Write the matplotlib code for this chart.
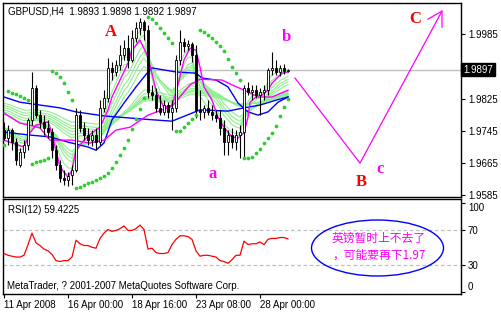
import numpy as np
import pandas as pd
import matplotlib
matplotlib.use('Agg')
import matplotlib.pyplot as plt
from matplotlib.patches import Ellipse

plt.rcParams['font.family'] = ['Liberation Sans', 'DejaVu Sans']

# ─── Datos (GBPUSD, H4) ───────────────────────────────────────────────────────
opens = [1.9747, 1.9727, 1.9747, 1.9717, 1.9660, 1.9692, 1.9710, 1.9772, 1.9851, 1.9784,
         1.9767, 1.9752, 1.9742, 1.9697, 1.9660, 1.9628, 1.9623, 1.9635, 1.9648, 1.9784,
         1.9752, 1.9735, 1.9722, 1.9735, 1.9717, 1.9802, 1.9826, 1.9901, 1.9891, 1.9908,
         1.9933, 1.9950, 1.9921, 1.9975, 2.0000, 2.0015, 1.9995, 1.9841, 1.9834, 1.9802,
         1.9792, 1.9809, 1.9792, 1.9802, 1.9921, 1.9965, 1.9955, 1.9960, 1.9933, 1.9797,
         1.9792, 1.9802, 1.9792, 1.9784, 1.9777, 1.9752, 1.9717, 1.9735, 1.9717, 1.9735,
         1.9742, 1.9851, 1.9841, 1.9846, 1.9834, 1.9841, 1.9846, 1.9896, 1.9901, 1.9891,
         1.9901, 1.9893]
highs = [1.9767, 1.9759, 1.9752, 1.9727, 1.9702, 1.9722, 1.9777, 1.9891, 1.9859, 1.9797,
         1.9784, 1.9772, 1.9752, 1.9710, 1.9673, 1.9648, 1.9643, 1.9660, 1.9802, 1.9797,
         1.9767, 1.9752, 1.9747, 1.9752, 1.9821, 1.9846, 1.9925, 1.9916, 1.9921, 1.9958,
         1.9970, 1.9983, 1.9995, 2.0015, 2.0025, 2.0020, 2.0007, 1.9859, 1.9851, 1.9834,
         1.9821, 1.9816, 1.9821, 1.9933, 1.9995, 1.9975, 1.9970, 1.9965, 1.9958, 1.9846,
         1.9809, 1.9821, 1.9809, 1.9797, 1.9797, 1.9772, 1.9747, 1.9752, 1.9747, 1.9759,
         1.9859, 1.9866, 1.9859, 1.9859, 1.9851, 1.9859, 1.9901, 1.9940, 1.9921, 1.9908,
         1.9911, 1.9898]
lows = [1.9722, 1.9710, 1.9697, 1.9660, 1.9655, 1.9677, 1.9697, 1.9759, 1.9777, 1.9752,
        1.9735, 1.9727, 1.9677, 1.9648, 1.9618, 1.9611, 1.9608, 1.9611, 1.9643, 1.9742,
        1.9722, 1.9710, 1.9707, 1.9697, 1.9710, 1.9792, 1.9816, 1.9871, 1.9881, 1.9896,
        1.9921, 1.9901, 1.9916, 1.9965, 1.9983, 1.9970, 1.9826, 1.9821, 1.9792, 1.9784,
        1.9784, 1.9777, 1.9747, 1.9792, 1.9908, 1.9940, 1.9945, 1.9916, 1.9777, 1.9772,
        1.9777, 1.9784, 1.9772, 1.9767, 1.9735, 1.9685, 1.9685, 1.9702, 1.9697, 1.9677,
        1.9677, 1.9834, 1.9821, 1.9826, 1.9784, 1.9821, 1.9834, 1.9883, 1.9883, 1.9881,
        1.9886, 1.9892]
closes = [1.9727, 1.9747, 1.9717, 1.9673, 1.9692, 1.9710, 1.9772, 1.9851, 1.9784, 1.9767,
          1.9752, 1.9742, 1.9697, 1.9660, 1.9628, 1.9623, 1.9633, 1.9648, 1.9784, 1.9752,
          1.9735, 1.9722, 1.9735, 1.9717, 1.9802, 1.9826, 1.9901, 1.9891, 1.9908, 1.9933,
          1.9950, 1.9921, 1.9975, 2.0000, 2.0015, 1.9995, 1.9841, 1.9834, 1.9802, 1.9792,
          1.9809, 1.9792, 1.9802, 1.9921, 1.9965, 1.9955, 1.9960, 1.9933, 1.9797, 1.9792,
          1.9802, 1.9792, 1.9784, 1.9777, 1.9752, 1.9717, 1.9735, 1.9717, 1.9735, 1.9742,
          1.9851, 1.9841, 1.9846, 1.9834, 1.9841, 1.9846, 1.9896, 1.9901, 1.9891, 1.9901,
          1.9893, 1.9897]

# Parabolic SAR
sar = [1.9710, 1.9844, 1.9839, 1.9836, 1.9831, 1.9826, 1.9821, 1.9663, 1.9668, 1.9670,
       1.9673, 1.9677, 1.9893, 1.9888, 1.9878, 1.9863, 1.9841, 1.9821, 1.9603, 1.9606,
       1.9611, 1.9615, 1.9618, 1.9623, 1.9628, 1.9633, 1.9640, 1.9653, 1.9668, 1.9685,
       1.9702, 1.9722, 1.9749, 1.9774, 1.9799, 1.9826, 2.0027, 2.0022, 2.0012, 2.0000,
       1.9987, 1.9975, 1.9963, 1.9744, 1.9744, 1.9754, 1.9764, 1.9774, 1.9784, 1.9995,
       1.9990, 1.9983, 1.9975, 1.9965, 1.9955, 1.9943, 1.9923, 1.9903, 1.9888, 1.9871,
       1.9677, 1.9677, 1.9680, 1.9690, 1.9700, 1.9715, 1.9727, 1.9739, 1.9757, 1.9782,
       1.9804, 1.9824]

# RSI(12)
rsi = [43, 41, 40, 39, 39, 41, 53, 66, 55, 52,
       48, 46, 42, 35, 34, 35, 35, 39, 58, 54,
       52, 52, 50, 49, 60, 66, 70, 68, 69, 71,
       74, 69, 69, 71, 75, 70, 48, 49, 44, 43,
       43, 44, 53, 59, 63, 63, 62, 59, 46, 40,
       41, 41, 40, 39, 35, 34, 32, 36, 41, 41,
       57, 53, 54, 54, 56, 53, 59, 60, 60, 61,
       61, 59.4225]

# Medias (barra, precio)
blue_slow_x = [0, 4, 9, 14, 18, 25, 35, 42, 49, 56, 60, 64, 68, 71]
blue_slow_y = [1.9829, 1.9816, 1.9809, 1.9802, 1.9792, 1.9782, 1.9774, 1.9769, 1.9797,
               1.9794, 1.9802, 1.9809, 1.9821, 1.9829]
blue_mid_x = [0, 6, 11.5, 16, 21, 23, 25, 27, 30, 33, 36, 37, 43, 48, 49.5, 53, 56, 58.5,
              61, 63.5, 66, 68.5, 71]
blue_mid_y = [1.9742, 1.9735, 1.9730, 1.9717, 1.9705, 1.9697, 1.9715, 1.9772, 1.9814, 1.9854,
              1.9891, 1.9901, 1.9891, 1.9888, 1.9876, 1.9871, 1.9854, 1.9814, 1.9792, 1.9784,
              1.9792, 1.9816, 1.9829]
mag_fast_x = [0, 2, 5, 6.5, 8, 11, 11.5, 13, 14, 16, 17, 18, 20, 22, 24, 26, 27, 29, 31, 32,
              34, 36, 38, 40, 42, 43, 45, 46.5, 48, 49, 50, 52, 53.5, 55, 57, 58.5, 60, 61,
              61.5, 63, 64.5, 66, 67, 69.5, 71]
mag_fast_y = [1.9722, 1.9715, 1.9705, 1.9740, 1.9759, 1.9767, 1.9754, 1.9697, 1.9655, 1.9630,
              1.9648, 1.9697, 1.9722, 1.9740, 1.9754, 1.9797, 1.9829, 1.9871, 1.9913, 1.9945,
              1.9970, 1.9928, 1.9846, 1.9802, 1.9809, 1.9839, 1.9921, 1.9950, 1.9945, 1.9903,
              1.9854, 1.9821, 1.9779, 1.9754, 1.9730, 1.9727, 1.9740, 1.9779, 1.9816, 1.9829,
              1.9834, 1.9846, 1.9863, 1.9888, 1.9891]
mag_slow_x = [0, 4, 6.5, 9, 11.5, 17, 21.5, 25, 28, 31.5, 36, 42, 46.5, 49, 54.5, 57, 60,
              63.5, 67, 71]
mag_slow_y = [1.9789, 1.9764, 1.9759, 1.9752, 1.9722, 1.9722, 1.9715, 1.9722, 1.9747, 1.9754,
              1.9784, 1.9806, 1.9859, 1.9873, 1.9871, 1.9859, 1.9846, 1.9829, 1.9829, 1.9846]

# GMMA: periodos y valor inicial en el borde izquierdo
gmma_spans = [3, 5, 8, 10, 12, 15, 30, 35, 40, 45, 50, 60]
gmma_seed = [1.9735, 1.9740, 1.9745, 1.9750, 1.9752, 1.9755,
             1.9790, 1.9795, 1.9800, 1.9806, 1.9811, 1.9816]

date_ticks = [0, 16, 32, 48, 64]
date_labels = ['11 Apr 2008', '16 Apr 00:00', '18 Apr 16:00', '23 Apr 08:00', '28 Apr 00:00']
price_ticks = [1.9585, 1.9665, 1.9745, 1.9825, 1.9985]
rsi_ticks = [0, 30, 70, 100]

# Onda dibujada a mano (barra, precio)
wave_x = [72.75, 89, 109.5]
wave_y = [1.9876, 1.9665, 2.0042]
letters = [('A', 26.75, 1.9980, 'red'), ('b', 70.5, 1.9968, 'magenta'),
           ('a', 52.25, 1.9628, 'magenta'), ('B', 89.25, 1.9608, 'red'),
           ('c', 94, 1.9640, 'magenta'), ('C', 102.75, 2.0012, 'red')]

# ─── Figura ───────────────────────────────────────────────────────────────────
W, H = 502, 315
fig = plt.figure(figsize=(W / 100, H / 100), dpi=100)
fig.patch.set_facecolor('white')

ax = fig.add_axes([3 / W, 1 - 197 / H, 458 / W, 194 / H])
ax_r = fig.add_axes([3 / W, 1 - 294 / H, 458 / W, 95 / H], sharex=ax)

xs = np.arange(len(closes))
o, h, l, c = map(np.array, (opens, highs, lows, closes))

# GMMA verde
for span, seed in zip(gmma_spans, gmma_seed):
    e = pd.Series([seed] + closes).ewm(span=span, adjust=False).mean().values[1:]
    ax.plot(xs, e, color='#90EE90', lw=0.8, zorder=2)

ax.plot(blue_slow_x, blue_slow_y, color='#0000FF', lw=1, zorder=3)
ax.plot(blue_mid_x, blue_mid_y, color='#0000FF', lw=1, zorder=3)
ax.plot(mag_slow_x, mag_slow_y, color='#FF00FF', lw=1, zorder=3)
ax.plot(mag_fast_x, mag_fast_y, color='#FF00FF', lw=1, zorder=3)

# Línea Bid
ax.axhline(closes[-1], color='#C0C0C0', lw=1, zorder=1)

# Velas
ax.vlines(xs, l, h, color='black', lw=0.8, zorder=4)
bull = c >= o
ax.bar(xs, np.abs(c - o), bottom=np.minimum(o, c), width=0.7,
       color=np.where(bull, 'white', 'black'), edgecolor='black', lw=0.6, zorder=5)

# SAR
ax.plot(xs, sar, ls='none', marker='o', ms=1.7, color='#32CD32', mec='#32CD32', zorder=6)

# Onda y flecha
ax.plot(wave_x, wave_y, color='#FF00FF', lw=0.9, zorder=6)
ax.plot([106, 109.5, 109.5], [2.0022, 2.0042, 2.0002], color='#FF00FF', lw=0.9, zorder=6)
for txt, bx, py, col in letters:
    ax.text(bx, py, txt, color=col, ha='center', va='baseline', fontsize=12,
            family='Liberation Serif', fontweight='bold', zorder=7)

ax.set_xlim(-0.25, 114.25)
ax.set_ylim(1.9581, 2.0062)
ax.yaxis.tick_right()
ax.set_yticks(price_ticks)
ax.set_yticklabels([f'{p:.4f}' for p in price_ticks])
ax.tick_params(axis='y', direction='out', length=3, pad=2, labelsize=7, width=0.8)
ax.tick_params(axis='x', bottom=False, labelbottom=False)
ax.text(1.0045, closes[-1], f'{closes[-1]:.4f}', transform=ax.get_yaxis_transform(),
        ha='left', va='center', color='white', fontsize=7,
        bbox=dict(boxstyle='square,pad=0.2', fc='black', ec='black'))

# RSI
ax_r.axhline(70, color='#C0C0C0', lw=0.9, ls=(0, (3, 2)))
ax_r.axhline(30, color='#C0C0C0', lw=0.9, ls=(0, (3, 2)))
ax_r.plot(xs, rsi, color='#FF0000', lw=0.9)
ax_r.set_ylim(-2.6, 104.4)
ax_r.yaxis.tick_right()
ax_r.set_yticks(rsi_ticks)
ax_r.set_yticklabels([str(v) for v in rsi_ticks])
ax_r.tick_params(axis='y', direction='out', length=3, pad=2, labelsize=7, width=0.8)
ylabs = ax_r.get_yticklabels()
ylabs[0].set_va('bottom')
ylabs[-1].set_va('top')
ax_r.set_xticks(date_ticks)
ax_r.set_xticklabels(date_labels, ha='left')
ax_r.tick_params(axis='x', direction='out', length=3, pad=1, labelsize=7, width=0.8)

for a in (ax, ax_r):
    a.set_facecolor('white')
    for s in a.spines.values():
        s.set_color('black')
        s.set_linewidth(1)

# Textos
fig.text(8 / W, 1 - 12 / H, 'GBPUSD,H4  1.9893 1.9898 1.9892 1.9897', fontsize=7,
         va='center', ha='left')
fig.text(8 / W, 1 - 210 / H, 'RSI(12) 59.4225', fontsize=7, va='center', ha='left')
fig.text(7 / W, 1 - 286 / H, 'MetaTrader, ? 2001-2007 MetaQuotes Software Corp.',
         fontsize=7, va='center', ha='left')

fig.add_artist(Ellipse((377.5 / W, 1 - 248 / H), 132 / W, 56 / H,
                       transform=fig.transFigure, fill=False, ec='#0000FF', lw=1))
fig.text(332 / W, 1 - 238 / H, '英镑暂时上不去了', fontsize=8.5, color='#FF00FF',
         family=['Noto Sans CJK SC', 'DejaVu Sans'], va='center', ha='left')
fig.text(332 / W, 1 - 255 / H, '，可能要再下1.97', fontsize=8.5, color='#FF00FF',
         family=['Noto Sans CJK SC', 'DejaVu Sans'], va='center', ha='left')

fig.savefig('out.png', dpi=100)
